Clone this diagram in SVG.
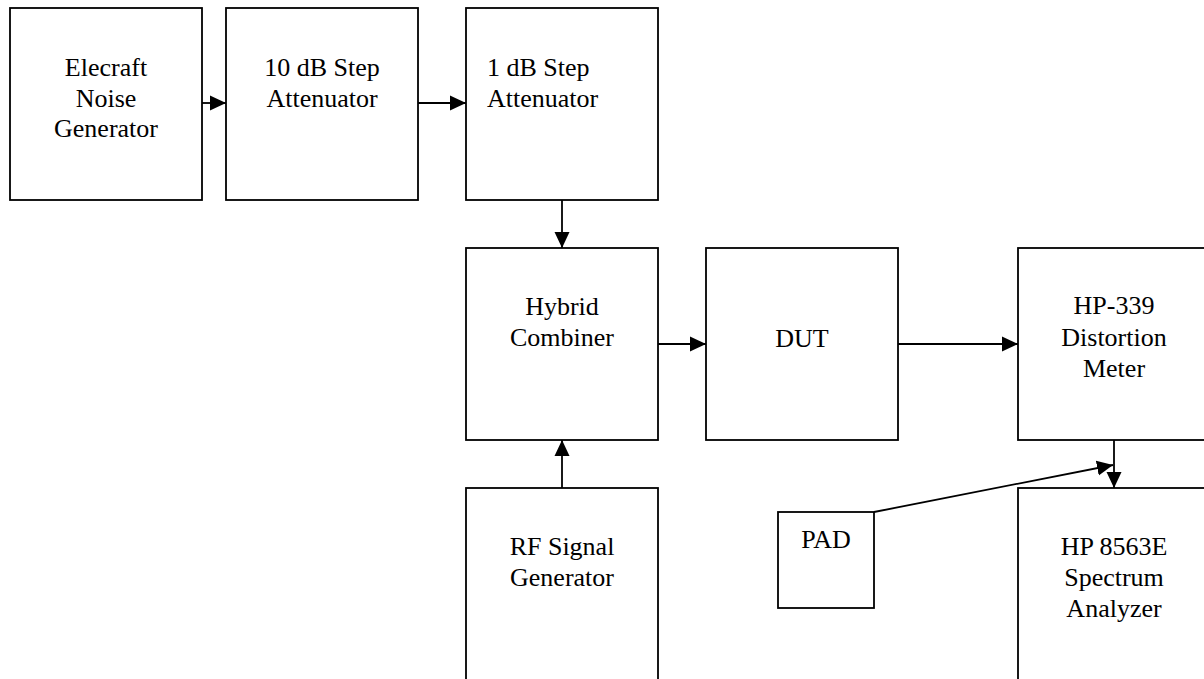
<svg xmlns="http://www.w3.org/2000/svg" width="1204" height="679" viewBox="0 0 1204 679">
<defs>
<marker id="ah" markerUnits="userSpaceOnUse" markerWidth="16" markerHeight="16" viewBox="0 0 16 16" refX="16" refY="8" orient="auto">
<path d="M0,0.5 L16,8 L0,15.5 Z" fill="#000"/>
</marker>
<style>
rect{fill:#fff;stroke:#000;stroke-width:1.8}
text{font-family:"Liberation Serif","Times New Roman",serif;font-size:26px;fill:#000;text-anchor:middle}
.c{stroke:#000;stroke-width:1.8;fill:none;marker-end:url(#ah)}
</style>
</defs>
<rect width="1204" height="679" style="fill:#fff;stroke:none"/>
<g id="noise"><rect x="10" y="8" width="192" height="192"/><text x="106" y="76">Elecraft</text><text x="106" y="107">Noise</text><text x="106" y="137">Generator</text></g>
<g id="att10"><rect x="226" y="8" width="192" height="192"/><text x="322" y="76">10 dB Step</text><text x="322" y="107">Attenuator</text></g>
<g id="att1"><rect x="466" y="8" width="192" height="192"/><text x="487" y="76" style="text-anchor:start">1 dB Step</text><text x="487" y="107" style="text-anchor:start">Attenuator</text></g>
<g id="hybrid"><rect x="466" y="248" width="192" height="192"/><text x="562" y="315">Hybrid</text><text x="562" y="346">Combiner</text></g>
<g id="dut"><rect x="706" y="248" width="192" height="192"/><text x="802" y="347">DUT</text></g>
<g id="hp339"><rect x="1018" y="248" width="192" height="192"/><text x="1114" y="314">HP-339</text><text x="1114" y="346">Distortion</text><text x="1114" y="377">Meter</text></g>
<g id="rfgen"><rect x="466" y="488" width="192" height="200"/><text x="562" y="555">RF Signal</text><text x="562" y="586">Generator</text></g>
<g id="pad"><rect x="778" y="512" width="96" height="96"/><text x="826" y="548">PAD</text></g>
<g id="sa"><rect x="1018" y="488" width="192" height="200"/><text x="1114" y="555">HP 8563E</text><text x="1114" y="586">Spectrum</text><text x="1114" y="617">Analyzer</text></g>
<g id="connectors">
<line class="c" x1="202" y1="103" x2="226" y2="103"/>
<line class="c" x1="418" y1="103" x2="466" y2="103"/>
<line class="c" x1="562" y1="200" x2="562" y2="248"/>
<line class="c" x1="658" y1="344" x2="706" y2="344"/>
<line class="c" x1="898" y1="344" x2="1018" y2="344"/>
<line class="c" x1="562" y1="488" x2="562" y2="440"/>
<line class="c" x1="1114" y1="440" x2="1114" y2="488"/>
<line class="c" x1="874" y1="512" x2="1113" y2="465"/>
</g>
</svg>
